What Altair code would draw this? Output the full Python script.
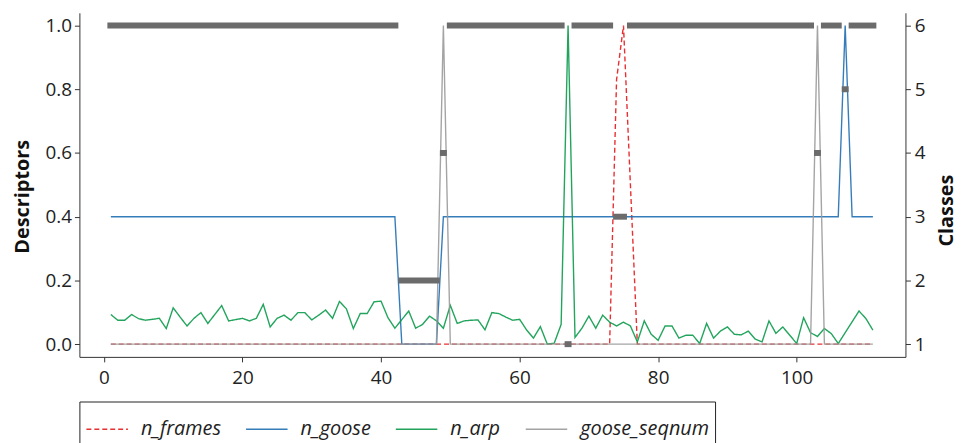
import altair as alt
import pandas as pd

FONT = "Open Sans"

time_steps = list(range(1, 112))
series_names = ["n_frames", "n_goose", "n_arp", "goose_seqnum"]
series_colors = ["#e41a1c", "#1f6fb2", "#0a9a4b", "#9a9a9a"]
series_dashes = [[5, 3], [1, 0], [1, 0], [1, 0]]

n_frames = [
    0, 0, 0, 0, 0, 0, 0, 0, 0, 0, 0, 0, 0, 0, 0, 0, 0, 0, 0, 0,
    0, 0, 0, 0, 0, 0, 0, 0, 0, 0, 0, 0, 0, 0, 0, 0, 0, 0, 0, 0,
    0, 0, 0, 0, 0, 0, 0, 0, 0, 0, 0, 0, 0, 0, 0, 0, 0, 0, 0, 0,
    0, 0, 0, 0, 0, 0, 0, 0, 0, 0, 0, 0, 0, 0.83, 1.0, 0.5, 0, 0, 0, 0,
    0, 0, 0, 0, 0, 0, 0, 0, 0, 0, 0, 0, 0, 0, 0, 0, 0, 0, 0, 0,
    0, 0, 0, 0, 0, 0, 0, 0, 0, 0, 0,
]

n_goose = [
    0.4, 0.4, 0.4, 0.4, 0.4, 0.4, 0.4, 0.4, 0.4, 0.4, 0.4, 0.4, 0.4, 0.4, 0.4, 0.4, 0.4, 0.4, 0.4, 0.4,
    0.4, 0.4, 0.4, 0.4, 0.4, 0.4, 0.4, 0.4, 0.4, 0.4, 0.4, 0.4, 0.4, 0.4, 0.4, 0.4, 0.4, 0.4, 0.4, 0.4,
    0.4, 0.4, 0.0, 0.0, 0.0, 0.0, 0.0, 0.0, 0.4, 0.4, 0.4, 0.4, 0.4, 0.4, 0.4, 0.4, 0.4, 0.4, 0.4, 0.4,
    0.4, 0.4, 0.4, 0.4, 0.4, 0.4, 0.4, 0.4, 0.4, 0.4, 0.4, 0.4, 0.4, 0.4, 0.4, 0.4, 0.4, 0.4, 0.4, 0.4,
    0.4, 0.4, 0.4, 0.4, 0.4, 0.4, 0.4, 0.4, 0.4, 0.4, 0.4, 0.4, 0.4, 0.4, 0.4, 0.4, 0.4, 0.4, 0.4, 0.4,
    0.4, 0.4, 0.4, 0.4, 0.4, 0.4, 1.0, 0.4, 0.4, 0.4, 0.4,
]

n_arp = [
    0.093, 0.075, 0.075, 0.093, 0.080, 0.075, 0.078, 0.081, 0.049, 0.114,
    0.085, 0.057, 0.081, 0.099, 0.065, 0.093, 0.121, 0.073, 0.077, 0.081,
    0.073, 0.081, 0.125, 0.054, 0.081, 0.091, 0.075, 0.099, 0.099, 0.076,
    0.091, 0.107, 0.081, 0.134, 0.111, 0.049, 0.096, 0.096, 0.133, 0.135,
    0.083, 0.050, 0.077, 0.104, 0.050, 0.062, 0.088, 0.073, 0.050, 0.122,
    0.065, 0.073, 0.075, 0.076, 0.045, 0.099, 0.096, 0.085, 0.075, 0.078,
    0.045, 0.019, 0.055, 0.000, 0.003, 0.062, 1.000, 0.021, 0.050, 0.088,
    0.050, 0.091, 0.069, 0.057, 0.069, 0.057, 0.007, 0.073, 0.031, 0.012,
    0.057, 0.057, 0.019, 0.028, 0.028, 0.002, 0.065, 0.019, 0.041, 0.054,
    0.031, 0.029, 0.041, 0.016, 0.007, 0.073, 0.034, 0.054, 0.028, 0.002,
    0.083, 0.036, 0.024, 0.049, 0.033, 0.002, 0.036, 0.070, 0.104, 0.080,
    0.044,
]

goose_seqnum = [
    0, 0, 0, 0, 0, 0, 0, 0, 0, 0, 0, 0, 0, 0, 0, 0, 0, 0, 0, 0,
    0, 0, 0, 0, 0, 0, 0, 0, 0, 0, 0, 0, 0, 0, 0, 0, 0, 0, 0, 0,
    0, 0, 0, 0, 0, 0, 0, 0, 1.0, 0, 0, 0, 0, 0, 0, 0, 0, 0, 0, 0,
    0, 0, 0, 0, 0, 0, 0, 0, 0, 0, 0, 0, 0, 0, 0, 0, 0, 0, 0, 0,
    0, 0, 0, 0, 0, 0, 0, 0, 0, 0, 0, 0, 0, 0, 0, 0, 0, 0, 0, 0,
    0, 0, 1.0, 0, 0, 0, 0, 0, 0, 0, 0,
]

classes = [
    6, 6, 6, 6, 6, 6, 6, 6, 6, 6, 6, 6, 6, 6, 6, 6, 6, 6, 6, 6,
    6, 6, 6, 6, 6, 6, 6, 6, 6, 6, 6, 6, 6, 6, 6, 6, 6, 6, 6, 6,
    6, 6, 2, 2, 2, 2, 2, 2, 4, 6, 6, 6, 6, 6, 6, 6, 6, 6, 6, 6,
    6, 6, 6, 6, 6, 6, 1, 6, 6, 6, 6, 6, 6, 3, 3, 6, 6, 6, 6, 6,
    6, 6, 6, 6, 6, 6, 6, 6, 6, 6, 6, 6, 6, 6, 6, 6, 6, 6, 6, 6,
    6, 6, 4, 6, 6, 6, 5, 6, 6, 6, 6,
]

x_ticks = [0, 20, 40, 60, 80, 100]
y_ticks = [0.0, 0.2, 0.4, 0.6, 0.8, 1.0]
class_ticks = [1, 2, 3, 4, 5, 6]

# long table of the four descriptor series
rows = []
for name, vals in zip(series_names, [n_frames, n_goose, n_arp, goose_seqnum]):
    for t, v in zip(time_steps, vals):
        rows.append({"t": t, "series": name, "value": v})
df_lines = pd.DataFrame(rows)

# runs of consecutive equal classes
runs = []
start = 0
for i in range(1, len(classes) + 1):
    if i == len(classes) or classes[i] != classes[start]:
        runs.append({"x0": time_steps[start] - 0.5, "x1": time_steps[i - 1] + 0.5,
                     "cls": classes[start]})
        start = i
df_runs = pd.DataFrame(runs)

x_scale = alt.Scale(domain=[-3.54, 115.7], nice=False, zero=False)
x_axis = alt.Axis(values=x_ticks, title=None, format="d", labelPadding=7)

leg = alt.Legend(
    title=None, orient="none", legendX=0, legendY=392, direction="horizontal",
    symbolType="stroke", symbolSize=1750, symbolStrokeWidth=1.5,
    labelFontSize=20, labelFontStyle="italic", labelFont=FONT, labelColor="#222",
    labelOffset=12, columnPadding=22, padding=6,
    strokeColor="#222", fillColor="white",
)

lines = alt.Chart(df_lines).mark_line(strokeWidth=1.4, opacity=0.9).encode(
    x=alt.X("t:Q", scale=x_scale, axis=x_axis),
    y=alt.Y("value:Q",
            scale=alt.Scale(domain=[-0.04, 1.04], nice=False, zero=False),
            axis=alt.Axis(values=y_ticks, format=".1f", title="Descriptors",
                          orient="left", labelPadding=3,
                          titleX=-51, titleY=185, titleAngle=270,
                          titleBaseline="alphabetic", titleAlign="center")),
    color=alt.Color("series:N",
                    scale=alt.Scale(domain=series_names, range=series_colors),
                    legend=leg),
    strokeDash=alt.StrokeDash("series:N",
                              scale=alt.Scale(domain=series_names, range=series_dashes),
                              legend=leg),
)

class_bars = alt.Chart(df_runs).mark_rule(strokeWidth=6, color="#6b6b6b", strokeCap="butt").encode(
    x=alt.X("x0:Q", scale=x_scale, axis=x_axis),
    x2="x1:Q",
    y=alt.Y("cls:Q",
            scale=alt.Scale(domain=[0.8, 6.2], nice=False, zero=False),
            axis=alt.Axis(values=class_ticks, format="d", title="Classes",
                          orient="right", labelPadding=4,
                          titleX=47, titleY=199, titleAngle=270,
                          titleBaseline="alphabetic", titleAlign="center")),
)

chart = alt.layer(lines, class_bars).resolve_scale(y="independent").properties(
    width=833,
    height=347,
    autosize=alt.AutoSizeParams(type="none"),
    padding={"left": 72, "top": 3, "right": 54, "bottom": 85},
).configure_view(stroke=None).configure_axis(
    domainColor="#333", tickColor="#333", labelColor="#222", titleColor="#111",
    labelFont=FONT, titleFont=FONT, labelFontSize=19, titleFontSize=20,
    titleFontWeight="bold", tickSize=5, domainWidth=1, tickWidth=1, grid=False,
)

chart.save("out.html", embed_options={"renderer": "svg", "actions": False})
